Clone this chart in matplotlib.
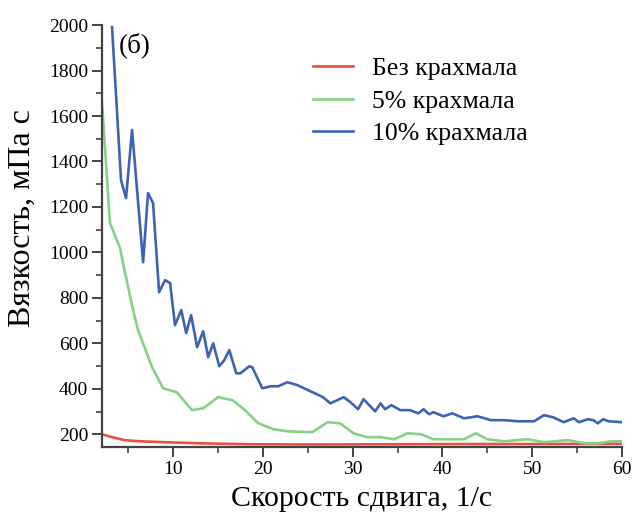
import numpy as np
import matplotlib
matplotlib.use('Agg')
import matplotlib.pyplot as plt
from matplotlib.ticker import MultipleLocator

plt.rcParams['font.family'] = ['Liberation Serif', 'DejaVu Serif']

# вязкость без крахмала
x_0 = [2.07, 3.2, 4.6, 6.3, 9.1, 13.0, 18.6, 25.0, 35.0, 45.0, 52.0, 60.0]
y_0 = [200, 187, 174, 169, 165, 160, 156, 155, 156, 157, 157, 158]

# 5% крахмала
x_5 = [2.07, 2.96, 4.08, 4.41, 5.53, 6.09, 7.65, 8.88, 10.4, 12.1, 13.34, 15.0,
       16.6, 18.0, 19.5, 21.2, 22.7, 25.5, 27.2, 28.6, 30.1, 31.6, 33.1, 34.6,
       36.1, 37.6, 39.0, 40.9, 42.4, 43.7, 45.0, 46.8, 49.5, 51.3, 54.0, 55.8,
       57.3, 58.8, 60.0]
y_5 = [1660, 1129, 1019, 953, 746, 658, 495, 402, 385, 306, 314, 363,
       350, 306, 248, 222, 213, 209, 253, 248, 204, 187, 187, 178,
       204, 200, 178, 178, 178, 204, 178, 169, 178, 165, 174, 160,
       160, 169, 169]

# 10% крахмала
x_10 = [3.19, 4.19, 4.75, 5.42, 6.65, 7.2, 7.76, 8.43, 9.1, 9.66, 10.2, 10.9,
        11.45, 12.0, 12.67, 13.34, 13.9, 14.46, 15.13, 15.69, 16.25, 17.03,
        17.47, 18.48, 18.81, 19.93, 20.82, 21.7, 22.72, 23.83, 25.3, 26.7,
        27.5, 29.0, 29.75, 30.6, 31.2, 32.5, 33.1, 33.6, 34.3, 35.3, 36.4,
        37.3, 37.9, 38.5, 39.0, 40.1, 41.1, 42.4, 43.9, 45.4, 46.8, 48.4,
        50.2, 51.3, 52.3, 53.5, 54.6, 55.2, 56.2, 56.8, 57.3, 57.9, 58.5, 60.0]
y_10 = [1991, 1318, 1239, 1538, 957, 1261, 1217, 825, 878, 865, 680, 746,
        645, 724, 583, 653, 539, 600, 499, 526, 570, 468,
        468, 499, 495, 402, 411, 411, 429, 416, 389, 363,
        336, 363, 341, 310, 354, 301, 336, 310, 328, 306, 306,
        292, 310, 288, 297, 279, 292, 270, 279, 262, 262, 257,
        257, 284, 275, 253, 270, 253, 266, 262, 248, 266, 257, 253]

labels = ['Без крахмала', '5% крахмала', '10% крахмала']
colors = ['#e8503f', '#86d088', '#3d63b4']

fig = plt.figure(figsize=(6.35, 5.12), dpi=100)
ax = fig.add_axes([0.1606, 0.127, 0.819, 0.824])

ax.plot(x_0, y_0, color=colors[0], lw=1.9, label=labels[0])
ax.plot(x_5, y_5, color=colors[1], lw=1.9, label=labels[1])
ax.plot(x_10, y_10, color=colors[2], lw=1.9, label=labels[2])

ax.set_xlim(2.07, 60)
ax.set_ylim(144, 2000)
ax.xaxis.set_major_locator(MultipleLocator(10))
ax.xaxis.set_minor_locator(MultipleLocator(5))
ax.yaxis.set_major_locator(MultipleLocator(200))
ax.yaxis.set_minor_locator(MultipleLocator(100))

for s in ['top', 'right']:
    ax.spines[s].set_visible(False)
for s in ['left', 'bottom']:
    ax.spines[s].set_color('#444444')
    ax.spines[s].set_linewidth(1.6)
ax.tick_params(which='major', length=7, width=1.4, color='#444444',
               labelsize=14, pad=3)
ax.tick_params(which='minor', length=4.5, width=1.2, color='#444444')

ax.set_xlabel('Скорость сдвига, 1/с', fontsize=21.5, labelpad=6)
ax.set_ylabel('Вязкость, мПа с', fontsize=23)
ax.yaxis.set_label_coords(-0.125, 0.543)

ax.text(0.032, 0.983, '(б)', transform=ax.transAxes, fontsize=19.5,
        va='top', ha='left')

fig.legend(*ax.get_legend_handles_labels(), loc='upper left',
           bbox_to_anchor=(0.493, 0.889), frameon=False, borderpad=0,
           borderaxespad=0, fontsize=18.5, handlelength=1.55,
           handletextpad=0.75, labelspacing=0.38)

plt.savefig('out.png', dpi=100)
